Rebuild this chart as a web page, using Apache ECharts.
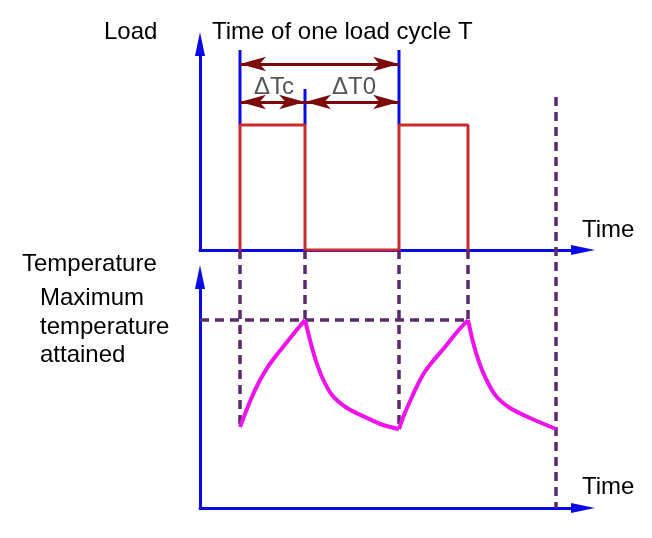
<!DOCTYPE html>
<html>
<head>
<meta charset="utf-8">
<script src="https://cdn.jsdelivr.net/npm/echarts@6/dist/echarts.min.js"></script>
<style>html,body{margin:0;padding:0;background:#fff}#c{width:652px;height:538px}</style>
</head>
<body>
<div id="c"></div>
<script>
// ---- data (schematic units) ----
const loadSwitchTimes = [40, 105, 199, 268];   // on, off, on, off
const loadLevel = 125;
const cycleEndTime = 356;
const markerTimes = [40, 105, 199];
const markerTops = [200, 161, 200];
const cycleArrowLevel = 186;
const partArrowLevel = 148;
const maxTemp = 188;
const heating1 = [[40,81],[45,94],[51,109],[57,122],[64,135],[72,147],[83,161],[95,176],[105,188]];
const cooling1 = [[105,188],[110,168],[115,150],[122,131],[132,113],[147,100],[167,90],[183,83],[199,79]];
const heating2 = [[199,79],[204,93],[211,109],[217,122],[224,135],[233,147],[245,161],[257,176],[268,188]];
const cooling2 = [[268,188],[273,166],[279,146],[286,129],[296,112],[310,100],[330,90],[356,79]];
const dashTopLower = 258;      // join point with load axis
const endDashTop = 411;
const dashBottoms = [81, 188, 79, 188];

const BLUE = '#0a0ae6', RED = '#cc2a2f', MAG = '#f012ee', DRED = '#7c0a0a', PURP = '#5b2a6c';
const FONT = '24px "Liberation Sans", Arial, sans-serif';

const chart = echarts.init(document.getElementById('c'), null, {renderer: 'canvas'});

function axis(gi, max) {
  return {type: 'value', gridIndex: gi, min: 0, max: max,
    axisLine: {show: true, onZero: false, symbol: ['none', 'triangle'], symbolSize: [10, 24],
      lineStyle: {color: BLUE, width: 3}},
    axisTick: {show: false}, axisLabel: {show: false}, splitLine: {show: false}};
}

const L = loadSwitchTimes;
const loadData = [[L[0],0],[L[0],loadLevel],[L[1],loadLevel],[L[1],0],[L[2],0],[L[2],loadLevel],[L[3],loadLevel],[L[3],0]];

const series = [];
function line(gi, data, color, width, type, extra) {
  return Object.assign({type: 'line', xAxisIndex: gi, yAxisIndex: gi, data: data, symbol: 'none',
    silent: true, animation: false, clip: false,
    lineStyle: {color: color, width: width, type: type || 'solid'}}, extra || {});
}

// blue marker lines
markerTimes.forEach((t, i) => series.push(line(0, [[t, loadLevel], [t, markerTops[i]]], BLUE, 3)));

// load curve with dimension arrows
series.push(line(0, loadData, RED, 3, 'solid', {
  markLine: {
    silent: true, animation: false, symbol: ['arrow', 'arrow'], symbolSize: [11, 26],
    label: {show: false},
    lineStyle: {color: DRED, width: 3, type: 'solid'},
    data: [
      [{coord: [markerTimes[0], cycleArrowLevel]}, {coord: [markerTimes[2], cycleArrowLevel]}],
      [{coord: [markerTimes[0], partArrowLevel]}, {coord: [markerTimes[1], partArrowLevel]}],
      [{coord: [markerTimes[1], partArrowLevel]}, {coord: [markerTimes[2], partArrowLevel]}]
    ]
  }
}));

// dashed guide lines (lower grid, extending up to load axis)
const dash = [9, 6];
series.push(line(1, [[0, maxTemp], [L[3], maxTemp]], PURP, 3.5, dash));
L.forEach((t, i) => series.push(line(1, [[t, dashTopLower], [t, dashBottoms[i]]], PURP, 3.5, dash)));
series.push(line(1, [[cycleEndTime, endDashTop], [cycleEndTime, 0]], PURP, 3.5, dash));

// temperature curve
[heating1, cooling1, heating2, cooling2].forEach(seg =>
  series.push(line(1, seg, MAG, 4, 'solid', {smooth: 0.3, z: 5})));

function txt(s, x, y, color) {
  return {type: 'text', x: x, y: y, silent: true,
    style: {text: s, font: FONT, fill: color || '#000', verticalAlign: 'middle', align: 'left'}};
}

chart.setOption({
  animation: false,
  backgroundColor: '#fff',
  grid: [
    {left: 200, top: 44, width: 383, height: 206},
    {left: 200, top: 277, width: 383, height: 231}
  ],
  xAxis: [axis(0, 383), axis(1, 383)],
  yAxis: [axis(0, 206), axis(1, 231)],
  series: series,
  graphic: [
    txt('Load', 104, 32),
    txt('Time of one load cycle T', 212, 32),
    txt('ΔTc', 254, 87, '#555'),
    txt('ΔT0', 332, 87, '#555'),
    txt('Time', 582, 230),
    txt('Temperature', 22, 264),
    txt('Maximum', 40, 298),
    txt('temperature', 40, 327),
    txt('attained', 40, 355),
    txt('Time', 582, 487)
  ]
});
</script>
</body>
</html>
